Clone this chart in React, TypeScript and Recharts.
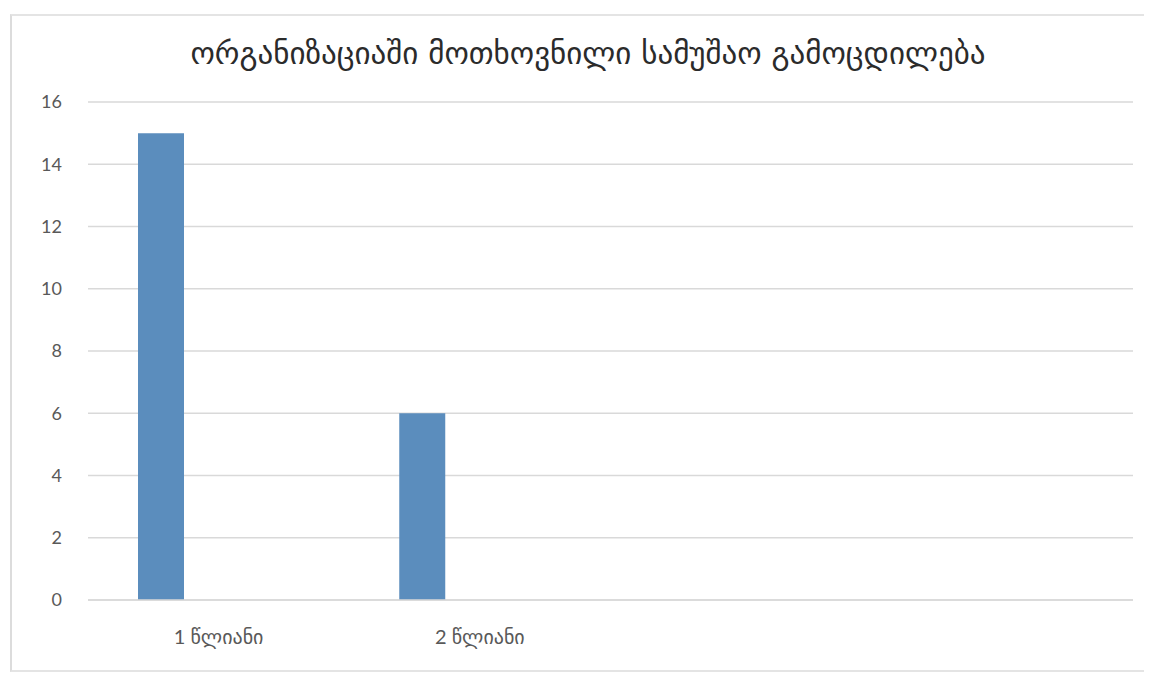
import {BarChart, Bar, XAxis, YAxis, CartesianGrid} from "recharts";

const categories = ["1 წლიანი", "2 წლიანი", "", ""];
const series1 = [15, 6, null, null];
const series2 = [null, null, null, null];
const series3 = [null, null, null, null];
const yTicks = [0, 2, 4, 6, 8, 10, 12, 14, 16];

const title = "ორგანიზაციაში მოთხოვნილი სამუშაო გამოცდილება";

const data = categories.map((name, i) => ({
    name,
    s1: series1[i],
    s2: series2[i],
    s3: series3[i],
}));

const font = "Lato, 'DejaVu Sans', sans-serif";

const App = () => {
    return (
        <div style={{position: "relative", width: 1144, height: 665, fontFamily: font, overflow: "hidden"}}>
            <div style={{
                position: "absolute", left: 2, top: 6, width: 1170, height: 654,
                borderLeft: "2px solid #dcdcdc", borderTop: "2px solid #e4e4e4", borderBottom: "2px solid #e4e4e4",
            }}/>
            <div style={{
                position: "absolute", left: 0, width: 1160, top: 27, textAlign: "center",
                fontSize: 31, color: "#2b2b2b", fontFamily: "'DejaVu Sans', sans-serif",
            }}>
                {title}
            </div>
            <BarChart
                width={1144}
                height={665}
                data={data}
                margin={{top: 94, right: 19, bottom: 30, left: 30}}
                barCategoryGap={50}
                barGap={12}
            >
                <CartesianGrid vertical={false} stroke="#d9d9d9" strokeWidth={1.5}/>
                <XAxis
                    dataKey="name"
                    axisLine={{stroke: "#d9d9d9", strokeWidth: 1.5}}
                    tickLine={false}
                    tickSize={0}
                    tickMargin={30}
                    height={43}
                    tick={{fill: "#595959", fontSize: 20, fontFamily: font}}
                />
                <YAxis
                    domain={[0, 16]}
                    ticks={yTicks}
                    axisLine={false}
                    tickLine={false}
                    tickSize={0}
                    tickMargin={26}
                    width={50}
                    tick={{fill: "#595959", fontSize: 18, fontFamily: font}}
                />
                <Bar dataKey="s1" fill="#5b8dbd" isAnimationActive={false}/>
                <Bar dataKey="s2" fill="#e07b39" isAnimationActive={false}/>
                <Bar dataKey="s3" fill="#a5a5a5" isAnimationActive={false}/>
            </BarChart>
        </div>
    );
};

export default App;
